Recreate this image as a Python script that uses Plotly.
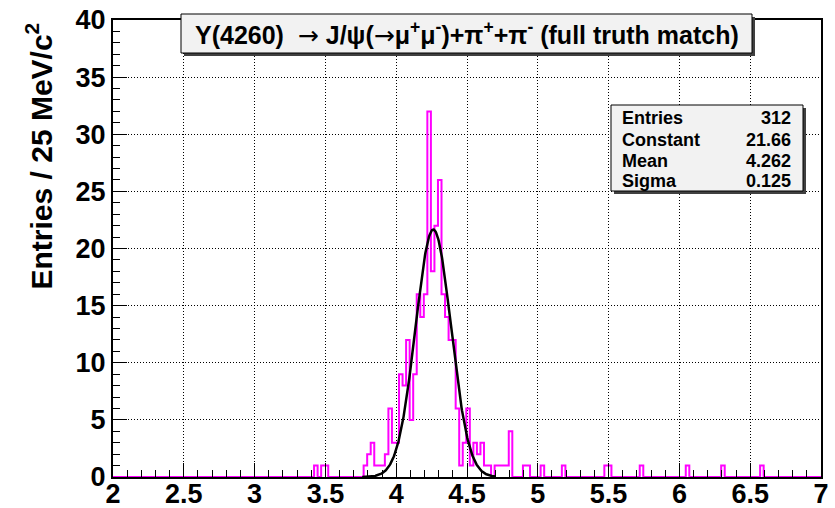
import numpy as np
import plotly.graph_objects as go

# ---------------- data ----------------
BIN_W = 0.025
GRID_START = 1.995
N_BINS = 202

# low edge of each non-empty bin and its content
bin_low = [3.42, 3.47, 3.495,
           3.77, 3.795, 3.82, 3.845, 3.87, 3.895, 3.92, 3.945, 3.97, 3.995,
           4.02, 4.045, 4.07, 4.095, 4.12, 4.145, 4.17, 4.195, 4.22, 4.245,
           4.27, 4.295, 4.32, 4.345, 4.37, 4.395, 4.42, 4.445, 4.47, 4.495,
           4.52, 4.545, 4.57, 4.595, 4.62, 4.645, 4.695, 4.72, 4.745, 4.77, 4.795,
           4.895, 4.92, 5.02, 5.17, 5.47, 5.495, 5.72, 6.045, 6.295, 6.57]
bin_cnt = [1, 1, 1,
           1, 2, 3, 1, 1, 1, 2, 6, 3, 3,
           9, 8, 12, 5, 9, 16, 14, 16, 32, 18,
           22, 26, 16, 14, 12, 12, 6, 1, 3, 6,
           1, 3, 2, 3, 1, 1, 1, 1, 1, 1, 4,
           1, 1, 1, 1, 1, 1, 1, 1, 1, 1]

fit_const = 21.66
fit_mean = 4.262
fit_sigma = 0.125
fit_range = [3.76, 4.70]

ARROW = '<span style="font-family:DejaVu Sans;font-weight:normal">\u2192</span>'
title_text = ("Y(4260)  " + ARROW + " J/\u03c8(" + ARROW + "\u03bc<sup>+</sup>\u03bc<sup>-</sup>)"
              "+\u03c0<sup>+</sup>+\u03c0<sup>-</sup> (full truth match)")
ytitle_text = "Entries / 25 MeV/c<sup>2</sup>"
x_ticks = [2, 2.5, 3, 3.5, 4, 4.5, 5, 5.5, 6, 6.5, 7]
x_tick_text = ["2", "2.5", "3", "3.5", "4", "4.5", "5", "5.5", "6", "6.5", "7"]
y_ticks = [0, 5, 10, 15, 20, 25, 30, 35, 40]

# ---------------- build ----------------
counts = np.zeros(N_BINS)
for lo, c in zip(bin_low, bin_cnt):
    counts[int(round((lo - GRID_START) / BIN_W))] += c
edges = GRID_START + BIN_W * np.arange(N_BINS + 1)
step_y = np.append(counts, counts[-1])

fx = np.linspace(fit_range[0], fit_range[1], 300)
fy = fit_const * np.exp(-0.5 * ((fx - fit_mean) / fit_sigma) ** 2)

W, H = 835, 508
ML, MR, MT, MB = 113, 14, 20, 31
PW, PH = W - ML - MR, H - MT - MB


def px(x):
    return (x - ML) / PW


def py(y):
    return (H - MB - y) / PH


FONT = "Liberation Sans, Arial, Helvetica, sans-serif"

fig = go.Figure()
fig.add_trace(go.Scatter(x=edges, y=step_y, mode="lines", line=dict(color="#ff00ff", width=2, shape="hv"),
                         showlegend=False, hoverinfo="skip"))
fig.add_trace(go.Scatter(x=fx, y=fy, mode="lines", line=dict(color="black", width=2.5),
                         showlegend=False, hoverinfo="skip"))

axis_common = dict(showline=True, linecolor="black", linewidth=2, mirror=True,
                   ticks="inside", tickcolor="black", tickwidth=1, automargin=False,
                   showgrid=True, gridcolor="black", gridwidth=1, griddash="1px,2px",
                   zeroline=False,
                   tickfont=dict(family=FONT, size=27, color="black", weight="bold"))

fig.update_xaxes(range=[2, 7], tickvals=x_ticks, ticktext=x_tick_text, ticklen=14,
                 ticklabelstandoff=-8,
                 minor=dict(dtick=0.1, ticks="inside", ticklen=7, tickcolor="black", showgrid=False),
                 **axis_common)
fig.update_yaxes(range=[0, 40], tickvals=y_ticks, ticklen=14,
                 minor=dict(dtick=1, ticks="inside", ticklen=7, tickcolor="black", showgrid=False),
                 **axis_common)

shapes = []
annotations = []

# title box with shadow
tb = dict(l=181, r=752, t=14, b=53)
shapes.append(dict(type="rect", xref="paper", yref="paper", x0=px(tb["l"] + 3), x1=px(tb["r"] + 3),
                   y0=py(tb["b"] + 3), y1=py(tb["t"] + 3), fillcolor="#404040", line=dict(width=0), layer="above"))
shapes.append(dict(type="rect", xref="paper", yref="paper", x0=px(tb["l"]), x1=px(tb["r"]),
                   y0=py(tb["b"]), y1=py(tb["t"]), fillcolor="#f2f2f2", line=dict(color="black", width=1),
                   layer="above"))
annotations.append(dict(xref="paper", yref="paper", x=px((tb["l"] + tb["r"]) / 2), y=py((tb["t"] + tb["b"]) / 2),
                        text=title_text, showarrow=False, xanchor="center", yanchor="middle",
                        font=dict(family=FONT, size=25, color="black", weight="bold")))

# stats box with shadow
sb = dict(l=611, r=803, t=105, b=191)
shapes.append(dict(type="rect", xref="paper", yref="paper", x0=px(sb["l"] + 3), x1=px(sb["r"] + 3),
                   y0=py(sb["b"] + 3), y1=py(sb["t"] + 3), fillcolor="#404040", line=dict(width=0), layer="above"))
shapes.append(dict(type="rect", xref="paper", yref="paper", x0=px(sb["l"]), x1=px(sb["r"]),
                   y0=py(sb["b"]), y1=py(sb["t"]), fillcolor="#f2f2f2", line=dict(color="black", width=1),
                   layer="above"))
stat_labels = ["Entries", "Constant", "Mean", "Sigma"]
stat_values = [f"{int(sum(bin_cnt))}", f"{fit_const:.2f}", f"{fit_mean:.3f}", f"{fit_sigma:.3f}"]
row_y = [118, 139.5, 160.5, 181]
for lab, val, ry in zip(stat_labels, stat_values, row_y):
    annotations.append(dict(xref="paper", yref="paper", x=px(sb["l"] + 9), y=py(ry), text=lab, showarrow=False,
                            xanchor="left", yanchor="middle",
                            font=dict(family=FONT, size=18, color="black", weight="bold")))
    annotations.append(dict(xref="paper", yref="paper", x=px(sb["r"] - 10), y=py(ry), text=val, showarrow=False,
                            xanchor="right", yanchor="middle",
                            font=dict(family=FONT, size=18, color="black", weight="bold")))

# y axis title (right-aligned at top of axis, like ROOT)
annotations.append(dict(xref="paper", yref="paper", x=px(39), y=py(21), text=ytitle_text, showarrow=False,
                        textangle=-90, xanchor="center", yanchor="top",
                        font=dict(family=FONT, size=30, color="black", weight="bold")))

fig.update_layout(width=W, height=H, autosize=False,
                  margin=dict(l=ML, r=MR, t=MT, b=MB, pad=0),
                  paper_bgcolor="white", plot_bgcolor="white",
                  shapes=shapes, annotations=annotations, showlegend=False)

fig.write_html("out.html")
